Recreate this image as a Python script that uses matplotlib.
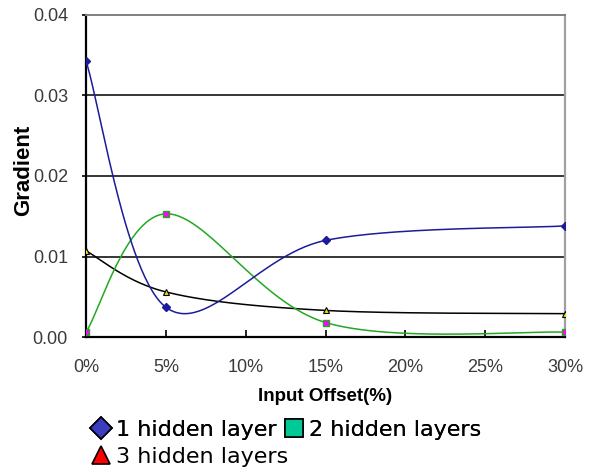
import numpy as np
import matplotlib
matplotlib.use('Agg')
import matplotlib.pyplot as plt
from matplotlib.lines import Line2D

# input offset (%) where the gradient was measured
offset = [0, 5, 15, 30]

grad_1 = [0.0343, 0.0037, 0.0120, 0.0138]   # 1 hidden layer
grad_2 = [0.0006, 0.0153, 0.0018, 0.0006]   # 2 hidden layers
grad_3 = [0.0107, 0.0056, 0.0033, 0.0029]   # 3 hidden layers

x_ticks = [0, 5, 10, 15, 20, 25, 30]
x_tick_labels = ['0%', '5%', '10%', '15%', '20%', '25%', '30%']
y_ticks = [0.00, 0.01, 0.02, 0.03, 0.04]
y_tick_labels = ['0.00', '0.01', '0.02', '0.03', '0.04']
series_names = ['1 hidden layer', '2 hidden layers', '3 hidden layers']


def smooth_line(xs, ys, n=60):
    """Spreadsheet-style smoothed line: cubic Bezier per segment,
    control points from neighbouring points (1/6 tension)."""
    p = np.column_stack([xs, ys]).astype(float)
    pts = np.vstack([p[0], p, p[-1]])
    t = np.linspace(0, 1, n)[:, None]
    out = []
    for i in range(1, len(pts) - 2):
        p0, p1, p2, p3 = pts[i - 1], pts[i], pts[i + 1], pts[i + 2]
        c1 = p1 + (p2 - p0) / 6.0
        c2 = p2 - (p3 - p1) / 6.0
        seg = ((1 - t) ** 3) * p1 + 3 * ((1 - t) ** 2) * t * c1 \
            + 3 * (1 - t) * t ** 2 * c2 + t ** 3 * p2
        out.append(seg if i == 1 else seg[1:])
    seg = np.vstack(out)
    return seg[:, 0], np.clip(seg[:, 1], 0, None)


fig = plt.figure(figsize=(5.90, 4.73), dpi=100)
ax = fig.add_axes([86 / 590, 1 - 337 / 473, (565 - 86) / 590, (337 - 15) / 473])

ax.set_xlim(0, 30)
ax.set_ylim(0, 0.04)

# horizontal grid lines
for yv in y_ticks[1:-1]:
    ax.axhline(yv, color='black', lw=1.1, zorder=1)

# curves
sx, sy = smooth_line(offset, grad_3)
ax.plot(sx, sy, color='black', lw=1.1, zorder=3)
ax.plot(offset, grad_3, ls='none', marker='^', ms=5, mfc='#e8e000', mec='black', mew=0.8, zorder=4)

sx, sy = smooth_line(offset, grad_2)
ax.plot(sx, sy, color='#22a822', lw=1.1, zorder=3)
ax.plot(offset, grad_2, ls='none', marker='s', ms=4, mfc='#ff00ff', mec='#22a822', mew=1.0, zorder=4)

sx, sy = smooth_line(offset, grad_1)
ax.plot(sx, sy, color='#1c1c9a', lw=1.1, zorder=3)
ax.plot(offset, grad_1, ls='none', marker='D', ms=4.5, mfc='#1c1c9a', mec='#1c1c9a', zorder=4)

# axes styling
ax.set_xticks(x_ticks)
ax.set_xticklabels(x_tick_labels)
ax.set_yticks(y_ticks)
ax.set_yticklabels(y_tick_labels)
ax.tick_params(axis='x', direction='in', length=5, width=1.2, pad=16,
               labelsize=13, labelcolor='#3a3a3a')
ax.tick_params(axis='y', direction='out', length=3, width=1.2, pad=10,
               labelsize=13, labelcolor='#3a3a3a')
for lab in ax.get_xticklabels() + ax.get_yticklabels():
    lab.set_family('Liberation Sans')

ax.spines['left'].set_linewidth(1.6)
ax.spines['bottom'].set_linewidth(1.6)
ax.spines['top'].set_color('#808080')
ax.spines['top'].set_linewidth(1.4)
ax.spines['right'].set_color('#a0a0a0')
ax.spines['right'].set_linewidth(1.6)

fig.text(23.5 / 590, 1 - 170 / 473, 'Gradient', rotation=90, ha='center', va='center',
         fontsize=16, fontweight='bold', family='Liberation Sans')
fig.text(325 / 590, 1 - 396 / 473, 'Input Offset(%)', ha='center', va='center',
         fontsize=13.5, fontweight='bold', family='Liberation Sans')

# legend below the plot
h1 = Line2D([], [], ls='none', marker='D', ms=11, mfc='#3c3cc0', mec='black', mew=1.2)
h2 = Line2D([], [], ls='none', marker='s', ms=12.5, mfc='#00c896', mec='black', mew=1.2)
h3 = Line2D([], [], ls='none', marker='^', ms=13, mfc='#ff0000', mec='black', mew=1.2)

leg_kw = dict(frameon=False, fontsize=16, handlelength=0.8, handletextpad=0.3,
              columnspacing=0.35, borderpad=0, borderaxespad=0, loc='center left')
leg1 = fig.legend([h1, h2], series_names[:2], ncol=2,
                  bbox_to_anchor=(92 / 590, 1 - 430 / 473), **leg_kw)
fig.legend([h3], series_names[2:], bbox_to_anchor=(92 / 590, 1 - 457 / 473), **leg_kw)
fig.add_artist(leg1)

fig.savefig('out.png', dpi=100)
